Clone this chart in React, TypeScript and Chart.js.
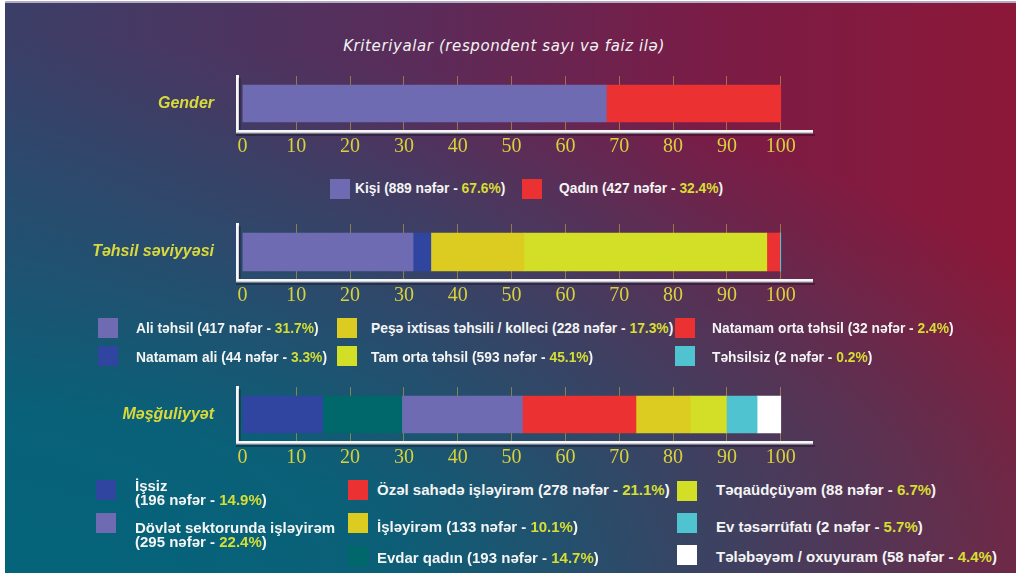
import React, { useEffect, useRef } from "react";
import { Chart, registerables } from "chart.js";

Chart.register(...registerables);

// ---------------- data ----------------
const titleText = "Kriteriyalar (respondent sayı və faiz ilə)";
const axisTicks = [0, 10, 20, 30, 40, 50, 60, 70, 80, 90, 100];

const genderCategory = "Gender";
const genderNames = ["Kişi", "Qadın"];
const genderCounts = [889, 427];
const genderPercents = [67.6, 32.4];

const eduCategory = "Təhsil səviyyəsi";
const eduNames = [
  "Ali təhsil",
  "Natamam ali",
  "Peşə ixtisas təhsili / kolleci",
  "Tam orta təhsil",
  "Natamam orta təhsil",
  "Təhsilsiz",
];
const eduCounts = [417, 44, 228, 593, 32, 2];
const eduPercents = [31.7, 3.3, 17.3, 45.1, 2.4, 0.2];

const empCategory = "Məşğuliyyət";
const empNames = [
  "İşsiz",
  "Evdar qadın",
  "Dövlət sektorunda işləyirəm",
  "Özəl sahədə işləyirəm",
  "İşləyirəm",
  "Təqaüdçüyəm",
  "Ev təsərrüfatı",
  "Tələbəyəm / oxuyuram",
];
const empCounts = [196, 193, 295, 278, 133, 88, 2, 58];
const empPercents = [14.9, 14.7, 22.4, 21.1, 10.1, 6.7, 5.7, 4.4];

// ---------------- styles ----------------
const LAVENDER = "#6e6bb3";
const RED = "#ec3133";
const BLUE = "#2f45a0";
const OCHRE = "#dccb20";
const LIME = "#d3de26";
const CYAN = "#4fc3d0";
const TEAL = "#00676b";
const WHITE = "#ffffff";

const genderColors = [LAVENDER, RED];
const eduColors = [LAVENDER, BLUE, OCHRE, LIME, RED, CYAN];
const empColors = [BLUE, TEAL, LAVENDER, RED, OCHRE, LIME, CYAN, WHITE];

const PCT_COLOR = "#d6de34";
const TICK_COLOR = "#d7d13c";
const CAT_COLOR = "#d9d93c";

const CANVAS_W = 900;
const AREA_LEFT = 237;
const AREA_RIGHT = 812;
const X_AXIS_H = 39;
const PAD_TOP = 16;

const axisShade = {
  id: "axisShade",
  beforeDatasetsDraw(chart: any) {
    const { ctx, chartArea: a } = chart;
    ctx.save();
    ctx.strokeStyle = "rgba(150,150,165,0.9)";
    ctx.lineWidth = 1.2;
    ctx.beginPath();
    ctx.moveTo(a.left - 1, a.bottom + 2.2);
    ctx.lineTo(a.right + 1, a.bottom + 2.2);
    ctx.stroke();
    ctx.strokeStyle = "rgba(10,5,20,0.35)";
    ctx.lineWidth = 2;
    ctx.beginPath();
    ctx.moveTo(a.left - 1, a.bottom + 4);
    ctx.lineTo(a.right + 3, a.bottom + 4);
    ctx.moveTo(a.left + 2.6, a.top + 2);
    ctx.lineTo(a.left + 2.6, a.bottom - 1);
    ctx.stroke();
    ctx.restore();
  },
};

type PanelProps = {
  areaTop: number;
  areaBottom: number;
  category: string;
  names: string[];
  values: number[];
  colors: string[];
  thickness: number;
};

function BarPanel({ areaTop, areaBottom, category, names, values, colors, thickness }: PanelProps) {
  const ref = useRef<HTMLCanvasElement>(null);
  const canvasTop = areaTop - PAD_TOP;
  const canvasH = areaBottom - canvasTop + X_AXIS_H;
  useEffect(() => {
    if (!ref.current) return;
    const chart = new Chart(ref.current, {
      type: "bar",
      data: {
        labels: [category],
        datasets: names.map((n, i) => ({
          label: n,
          data: [values[i]],
          backgroundColor: colors[i],
          borderWidth: 0,
          barThickness: thickness,
        })),
      },
      options: {
        indexAxis: "y",
        animation: false,
        responsive: false,
        events: [],
        layout: { padding: { top: PAD_TOP, right: CANVAS_W - AREA_RIGHT, left: 0, bottom: 0 } },
        plugins: { legend: { display: false }, tooltip: { enabled: false }, title: { display: false } },
        scales: {
          x: {
            stacked: true,
            min: -1,
            max: 105.8,
            bounds: "data",
            afterBuildTicks: (s: any) => {
              s.ticks = axisTicks.map((v) => ({ value: v }));
            },
            afterFit: (s: any) => {
              s.height = X_AXIS_H;
              s.paddingLeft = 0;
              s.paddingRight = 0;
            },
            grid: {
              color: (c: any) => (c.tick && c.tick.value === 0 ? "rgba(0,0,0,0)" : "rgba(196,166,62,0.6)"),
              lineWidth: 1,
              drawTicks: false,
            },
            border: { color: "#f6f6f6", width: 3 },
            ticks: {
              color: TICK_COLOR,
              font: { family: "'Liberation Serif', 'DejaVu Serif', serif", size: 20 },
              padding: 4,
              maxRotation: 0,
              autoSkip: false,
              callback: (v: any) => String(v),
            },
          },
          y: {
            stacked: true,
            afterFit: (s: any) => {
              s.width = AREA_LEFT;
              s.paddingTop = 0;
              s.paddingBottom = 0;
            },
            grid: { display: false },
            border: { color: "#f6f6f6", width: 3 },
            ticks: {
              color: CAT_COLOR,
              font: { family: "'Liberation Sans', Arial, sans-serif", size: 16, weight: "bold", style: "italic" },
              padding: 15,
            },
          },
        },
      },
      plugins: [axisShade],
    } as any);
    return () => chart.destroy();
  }, []);
  return (
    <div style={{ position: "absolute", left: 0, top: canvasTop, width: CANVAS_W, height: canvasH }}>
      <canvas ref={ref} width={CANVAS_W} height={canvasH} style={{ display: "block" }} />
    </div>
  );
}

type LegendPos = { i: number; sx: number; sy: number; tx: number; ty: number; two?: boolean };

const genderLegend: LegendPos[] = [
  { i: 0, sx: 330, sy: 179, tx: 355, ty: 188 },
  { i: 1, sx: 522, sy: 179, tx: 559, ty: 188 },
];
const eduLegend: LegendPos[] = [
  { i: 0, sx: 98, sy: 318, tx: 136, ty: 328 },
  { i: 1, sx: 98, sy: 346, tx: 136, ty: 357 },
  { i: 2, sx: 337, sy: 318, tx: 371, ty: 328 },
  { i: 3, sx: 337, sy: 346, tx: 371, ty: 357 },
  { i: 4, sx: 675, sy: 318, tx: 712, ty: 328 },
  { i: 5, sx: 675, sy: 346, tx: 712, ty: 357 },
];
const empLegend: LegendPos[] = [
  { i: 0, sx: 96, sy: 480, tx: 135, ty: 486, two: true },
  { i: 2, sx: 96, sy: 513, tx: 135, ty: 528, two: true },
  { i: 3, sx: 348, sy: 480, tx: 377, ty: 490 },
  { i: 4, sx: 348, sy: 513, tx: 377, ty: 527 },
  { i: 1, sx: 348, sy: 546, tx: 377, ty: 558 },
  { i: 5, sx: 677, sy: 481, tx: 716, ty: 490 },
  { i: 6, sx: 677, sy: 513, tx: 716, ty: 527 },
  { i: 7, sx: 677, sy: 545, tx: 716, ty: 557 },
];

function Legend({
  items,
  names,
  counts,
  percents,
  colors,
  narrow,
}: {
  items: LegendPos[];
  names: string[];
  counts: number[];
  percents: number[];
  colors: string[];
  narrow: boolean;
}) {
  const lh = 14;
  return (
    <>
      {items.map((p) => (
        <React.Fragment key={p.i}>
          <div
            style={{
              position: "absolute",
              left: p.sx,
              top: p.sy,
              width: 20,
              height: 20,
              background: colors[p.i],
            }}
          />
          <div
            style={{
              position: "absolute",
              left: p.tx,
              top: p.ty - lh / 2,
              whiteSpace: "pre",
              fontFamily: "'Liberation Sans', Arial, sans-serif",
              fontWeight: "bold",
              fontSize: 15,
              lineHeight: lh + "px",
              color: "#f4f4f4",
              transform: narrow ? "scaleX(0.92)" : undefined,
              transformOrigin: "left center",
            }}
          >
            {names[p.i]}
            {p.two ? "\n" : " "}
            {"(" + counts[p.i] + " nəfər - "}
            <span style={{ color: PCT_COLOR }}>{percents[p.i].toFixed(1) + "%"}</span>
            {")"}
          </div>
        </React.Fragment>
      ))}
    </>
  );
}

export default function App() {
  useEffect(() => {
    document.body.style.margin = "0";
  }, []);
  return (
    <div
      style={{
        position: "absolute",
        left: 0,
        top: 0,
        width: 1016,
        height: 573,
        overflow: "hidden",
        background: "#ffffff",
      }}
    >
      <div
        style={{
          position: "absolute",
          left: 5,
          top: 1,
          right: 0,
          height: 2,
          background: "#b3abc3",
        }}
      />
      <div
        style={{
          position: "absolute",
          left: 5,
          top: 3,
          width: 1011,
          height: 570,
          background:
            "radial-gradient(ellipse 1250px 540px at -5px 572px, rgba(4,100,122,1) 0%, rgba(4,100,122,0.92) 30%, rgba(4,100,122,0.55) 55%, rgba(4,100,122,0.3) 75%, rgba(4,100,122,0.1) 90%, rgba(4,100,122,0) 100%), linear-gradient(to right, #3b3f68 0%, #5a2c5a 40%, #7a1c46 70%, #8c1838 100%)",
        }}
      />
      <div
        style={{
          position: "absolute",
          left: 0,
          top: 37,
          width: 1008,
          textAlign: "center",
          fontFamily: "'DejaVu Sans', 'Liberation Sans', sans-serif",
          fontStyle: "italic",
          fontSize: 15,
          letterSpacing: "0.6px",
          lineHeight: "18px",
          color: "#f2f2f2",
        }}
      >
        {titleText}
      </div>

      <BarPanel
        areaTop={76}
        areaBottom={131}
        category={genderCategory}
        names={genderNames}
        values={genderPercents}
        colors={genderColors}
        thickness={37}
      />
      <Legend items={genderLegend} names={genderNames} counts={genderCounts} percents={genderPercents} colors={genderColors} narrow />

      <BarPanel
        areaTop={224}
        areaBottom={280}
        category={eduCategory}
        names={eduNames}
        values={eduPercents}
        colors={eduColors}
        thickness={38}
      />
      <Legend items={eduLegend} names={eduNames} counts={eduCounts} percents={eduPercents} colors={eduColors} narrow />

      <BarPanel
        areaTop={387}
        areaBottom={442}
        category={empCategory}
        names={empNames}
        values={empPercents}
        colors={empColors}
        thickness={37}
      />
      <Legend items={empLegend} names={empNames} counts={empCounts} percents={empPercents} colors={empColors} narrow={false} />
    </div>
  );
}
